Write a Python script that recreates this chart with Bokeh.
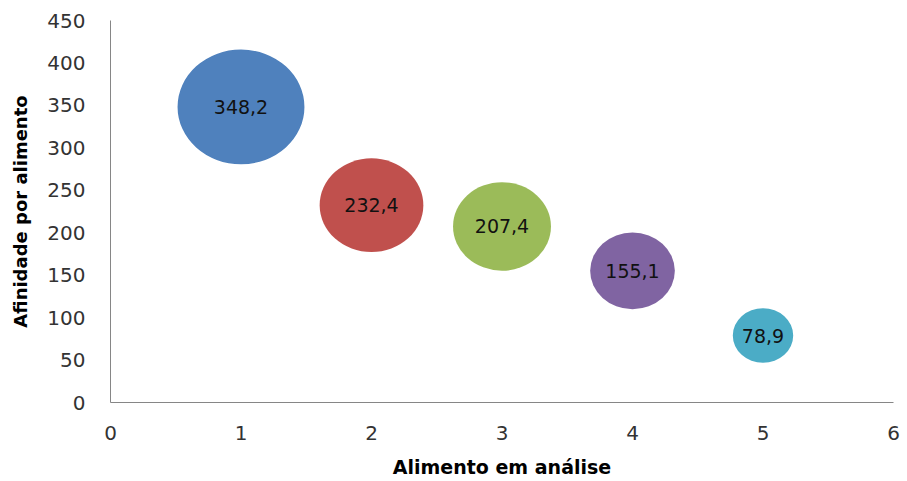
from bokeh.plotting import figure
from bokeh.models import ColumnDataSource, Range1d, FixedTicker
from bokeh.core.properties import value
from bokeh.embed import file_html
from bokeh.resources import INLINE
import math

x_vals = [1, 2, 3, 4, 5]
y_vals = [348.2, 232.4, 207.4, 155.1, 78.9]
sizes = [348.2, 232.4, 207.4, 155.1, 78.9]
labels = ["348,2", "232,4", "207,4", "155,1", "78,9"]
colors = ["#4F81BD", "#C0504D", "#9BBB59", "#8064A2", "#4BACC6"]

FONT = "DejaVu Sans"

src = ColumnDataSource(dict(
    x=x_vals, y=y_vals, label=labels, color=colors,
    w=[6.8 * math.sqrt(s) for s in sizes],
    h=[6.15 * math.sqrt(s) for s in sizes],
))

p = figure(width=907, height=481, output_backend="svg", toolbar_location=None,
           x_range=Range1d(0, 6), y_range=Range1d(0, 450),
           min_border_left=110, min_border_right=14, min_border_top=20,
           min_border_bottom=79)
p.outline_line_color = None
p.xgrid.visible = False
p.ygrid.visible = False

p.ellipse(x="x", y="y", width="w", height="h", width_units="screen",
          height_units="screen", fill_color="color", line_color=None, source=src)
p.text(x="x", y="y", text="label", source=src, text_align="center",
       text_baseline="middle", text_font=value(FONT), text_font_size="19px",
       text_color="#111111")

for ax in (p.xaxis[0], p.yaxis[0]):
    ax.axis_line_color = "#868686"
    ax.major_tick_line_color = None
    ax.minor_tick_line_color = None
    ax.major_tick_out = 0
    ax.major_tick_in = 0
    ax.major_label_text_font = FONT
    ax.major_label_text_font_size = "20px"
    ax.major_label_text_color = "#333333"
    ax.axis_label_text_font = FONT
    ax.axis_label_text_font_size = "19px"
    ax.axis_label_text_font_style = "bold"
    ax.axis_label_text_color = "#000000"

p.yaxis[0].axis_label_text_font_size = "18px"
p.xaxis[0].ticker = FixedTicker(ticks=[0, 1, 2, 3, 4, 5, 6])
p.yaxis[0].ticker = FixedTicker(ticks=list(range(0, 451, 50)))
p.xaxis[0].axis_label = "Alimento em análise"
p.yaxis[0].axis_label = "Afinidade por alimento"
p.xaxis[0].major_label_standoff = 23
p.xaxis[0].axis_label_standoff = 13
p.yaxis[0].major_label_standoff = 25
p.yaxis[0].axis_label_standoff = 13

open("out.html", "w").write(file_html(p, INLINE))
